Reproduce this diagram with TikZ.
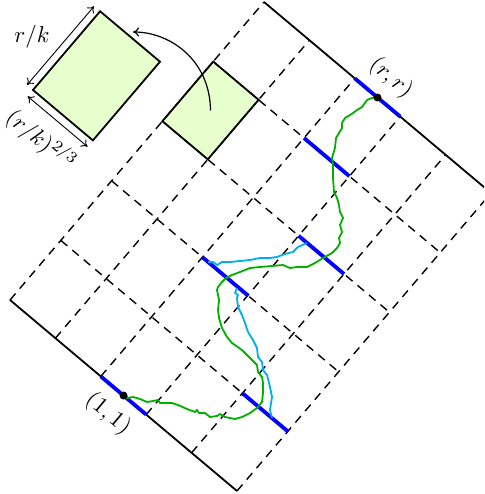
\documentclass[tikz,border=0pt]{standalone}
\usetikzlibrary{arrows.meta}
\definecolor{cellgreen}{RGB}{230,255,204}
\definecolor{walkgreen}{RGB}{0,175,0}
\definecolor{walkcyan}{RGB}{0,174,239}
\begin{document}
\begin{tikzpicture}[x=1pt,y=-1pt,
  dashline/.style={line width=1.4pt, dash pattern=on 8.5pt off 6.5pt},
  edge/.style={line width=1.8pt},
  bluebar/.style={line width=3.8pt, blue},
  walkg/.style={line width=1.8pt, walkgreen, line join=round},
  walkc/.style={line width=1.8pt, walkcyan, line join=round},
  lab/.style={inner sep=0pt, scale=2.3, transform shape},
  tipcm/.tip={Computer Modern Rightarrow[length=6pt,width=9pt]},
  dimarrow/.style={line width=0.9pt, tipcm-tipcm},
  curvearrow/.style={line width=1.2pt, -tipcm}]
\useasboundingbox (0,0) rectangle (484,494);
\clip (0,0) rectangle (484,494);
% ---------- grid ----------
\begin{scope}[shift={(10pt,-300pt)}, x={(45.4pt,-38.2pt)}, y={(50.8pt,59.6pt)}]
  \coordinate (c1) at (0,3); \coordinate (c2) at (1,3);
  \coordinate (c3) at (1,4); \coordinate (c4) at (0,4);
  \coordinate (cc) at (0.5,3.5);
  \fill[cellgreen] (c1) -- (c2) -- (c3) -- (c4) -- cycle;
  \foreach \i in {0,...,5} { \draw[dashline] (\i,0) -- (\i,5); }
  \foreach \j in {1,...,4} { \draw[dashline] (0,\j) -- (5,\j); }
  \draw[edge] (0,0) -- (5,0);
  \draw[edge] (0,5) -- (5,5);
  \draw[edge] (c1) -- (c2) -- (c3) -- (c4) -- cycle;
  \coordinate (p11) at (2.5,0);
  \coordinate (prr) at (2.5,5);
  \coordinate (b0a) at (2,0); \coordinate (b0b) at (3,0);
  \coordinate (b1a) at (4,1); \coordinate (b1b) at (5,1);
  \coordinate (b2a) at (2,2); \coordinate (b2b) at (3,2);
  \coordinate (b3a) at (3,3); \coordinate (b3b) at (4,3);
  \coordinate (b4a) at (2,4); \coordinate (b4b) at (3,4);
  \coordinate (b5a) at (2,5); \coordinate (b5b) at (3,5);
\end{scope}
\draw[bluebar] (b0a) -- (b0b);
\draw[bluebar] (b1a) -- (b1b);
\draw[bluebar] (b2a) -- (b2b);
\draw[bluebar] (b3a) -- (b3b);
\draw[bluebar] (b4a) -- (b4b);
\draw[bluebar] (b5a) -- (b5b);
% ---------- walks ----------
\draw[walkc] (307,243) -- (298,247) -- (293,252) -- (285,254) -- (277,257) -- (270,258) -- (260,258) -- (250,260) -- (240,261) -- (230,262) -- (222,262) -- (217,265) -- (213,262) -- (208,262);
\draw[walkc] (237,288) -- (235,293) -- (238,295) -- (237,298) -- (238,307) -- (242,315) -- (245,323) -- (248,332) -- (253,340) -- (257,348) -- (258,357) -- (262,362) -- (263,370) -- (267,375) -- (270,387) -- (272,397) -- (270,410) -- (272,418);
\draw[walkg] (p11) -- (127,398) -- (133,397) -- (140,399) -- (147,402) -- (153,401) -- (158,400) -- (160,403) -- (165,403) -- (172,403) -- (178,405) -- (187,409) -- (195,412) -- (197,410) -- (199,413) -- (205,413) -- (210,417) -- (217,416) -- (220,414) -- (225,417) -- (235,419) -- (242,417) -- (250,413) -- (257,408) -- (262,402) -- (263,393) -- (263,383) -- (262,377) -- (258,372) -- (257,365) -- (250,358) -- (242,350) -- (232,343) -- (227,337) -- (222,328) -- (219,318) -- (218,310) -- (219,300) -- (217,290) -- (218,287) -- (222,282) -- (226,278) -- (232,275) -- (240,272) -- (250,268) -- (260,267) -- (272,266) -- (283,265) -- (290,268) -- (297,267) -- (307,267) -- (315,263) -- (323,258) -- (332,253) -- (337,248) -- (340,243) -- (339,238) -- (342,232) -- (340,225) -- (343,218) -- (340,212) -- (339,205) -- (337,198) -- (334,192) -- (333,178) -- (333,165) -- (332,158) -- (335,148) -- (336,138) -- (342,128) -- (342,123) -- (345,118) -- (350,115) -- (353,113) -- (357,110) -- (362,107) -- (367,100) -- (372,98) -- (prr);
\fill (p11) circle (4pt);
\fill (prr) circle (4pt);
\node[lab, rotate=-40] (l11) at (108,414) {$(1,1)$};
\node[lab, rotate=-40] (lrr) at (391,78) {$(r,r)$};
% ---------- enlarged cell ----------
\begin{scope}[shift={(33pt,-90pt)}, x={(59.9pt,-50.4pt)}, y={(67.1pt,78.7pt)}]
  \coordinate (BA) at (0,0); \coordinate (BD) at (1,0);
  \coordinate (BC) at (1,1); \coordinate (BB) at (0,1);
  \filldraw[fill=cellgreen, edge] (BA) -- (BD) -- (BC) -- (BB) -- cycle;
  \coordinate (rk1) at (-0.1,0); \coordinate (rk2) at (-0.1,1);
  \coordinate (rq1) at (0,-0.08); \coordinate (rq2) at (1,-0.08);
\end{scope}
\draw[dimarrow] (rk1) -- (rk2);
\draw[dimarrow] (rq1) -- (rq2);
\node[lab] (lrk) at (32,37) {$r/k$};
\node[lab, rotate=-40] (lrq) at (41,140) {$(r/k)^{2/3}$};
\coordinate (ce) at (133,32);
\draw[curvearrow] (cc) .. controls (210,60) and (170,32) .. (ce);
\end{tikzpicture}
\end{document}
